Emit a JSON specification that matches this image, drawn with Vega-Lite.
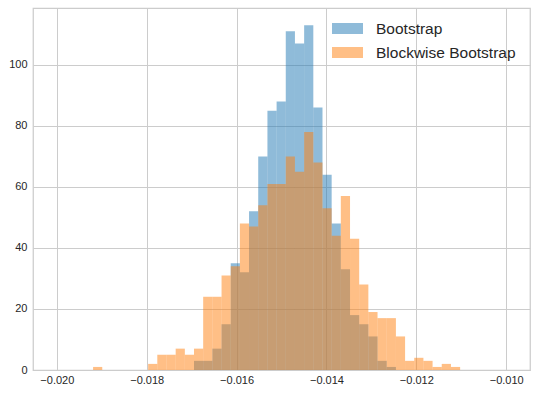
{
  "$schema": "https://vega.github.io/schema/vega-lite/v6.json",
  "width": 497,
  "height": 362,
  "autosize": {"type": "none"},
  "padding": {"left": 33, "top": 8, "right": 7, "bottom": 25},
  "background": "white",
  "config": {
    "view": {"stroke": "#cccccc", "strokeWidth": 1.25},
    "axis": {
      "domain": false,
      "ticks": false,
      "grid": true,
      "gridColor": "#cccccc",
      "gridWidth": 1,
      "gridOpacity": 1,
      "labelFont": "Liberation Sans",
      "labelFontSize": 11,
      "labelColor": "#262626",
      "labelPadding": 4,
      "title": null
    },
    "axisY": {"labelPadding": 6},
    "legend": {
      "labelFont": "Liberation Sans",
      "labelFontSize": 15.5,
      "labelColor": "#262626"
    }
  },
  "data": {
    "values": [
      {"series": "Bootstrap", "start": -0.016947, "end": -0.016743, "count": 3},
      {"series": "Bootstrap", "start": -0.016743, "end": -0.016538, "count": 3},
      {"series": "Bootstrap", "start": -0.016538, "end": -0.016334, "count": 7},
      {"series": "Bootstrap", "start": -0.016334, "end": -0.016130, "count": 15},
      {"series": "Bootstrap", "start": -0.016130, "end": -0.015926, "count": 35},
      {"series": "Bootstrap", "start": -0.015926, "end": -0.015722, "count": 32},
      {"series": "Bootstrap", "start": -0.015722, "end": -0.015518, "count": 52},
      {"series": "Bootstrap", "start": -0.015518, "end": -0.015313, "count": 70},
      {"series": "Bootstrap", "start": -0.015313, "end": -0.015109, "count": 85},
      {"series": "Bootstrap", "start": -0.015109, "end": -0.014905, "count": 88},
      {"series": "Bootstrap", "start": -0.014905, "end": -0.014701, "count": 111},
      {"series": "Bootstrap", "start": -0.014701, "end": -0.014496, "count": 107},
      {"series": "Bootstrap", "start": -0.014496, "end": -0.014292, "count": 113},
      {"series": "Bootstrap", "start": -0.014292, "end": -0.014088, "count": 86},
      {"series": "Bootstrap", "start": -0.014088, "end": -0.013884, "count": 64},
      {"series": "Bootstrap", "start": -0.013884, "end": -0.013680, "count": 48},
      {"series": "Bootstrap", "start": -0.013680, "end": -0.013475, "count": 33},
      {"series": "Bootstrap", "start": -0.013475, "end": -0.013271, "count": 18},
      {"series": "Bootstrap", "start": -0.013271, "end": -0.013067, "count": 15},
      {"series": "Bootstrap", "start": -0.013067, "end": -0.012863, "count": 11},
      {"series": "Bootstrap", "start": -0.012863, "end": -0.012659, "count": 3},
      {"series": "Bootstrap", "start": -0.012659, "end": -0.012454, "count": 1},
      {"series": "Blockwise Bootstrap", "start": -0.019193, "end": -0.018989, "count": 1},
      {"series": "Blockwise Bootstrap", "start": -0.017968, "end": -0.017764, "count": 2},
      {"series": "Blockwise Bootstrap", "start": -0.017764, "end": -0.017559, "count": 5},
      {"series": "Blockwise Bootstrap", "start": -0.017559, "end": -0.017355, "count": 5},
      {"series": "Blockwise Bootstrap", "start": -0.017355, "end": -0.017151, "count": 7},
      {"series": "Blockwise Bootstrap", "start": -0.017151, "end": -0.016947, "count": 5},
      {"series": "Blockwise Bootstrap", "start": -0.016947, "end": -0.016743, "count": 7},
      {"series": "Blockwise Bootstrap", "start": -0.016743, "end": -0.016538, "count": 24},
      {"series": "Blockwise Bootstrap", "start": -0.016538, "end": -0.016334, "count": 24},
      {"series": "Blockwise Bootstrap", "start": -0.016334, "end": -0.016130, "count": 31},
      {"series": "Blockwise Bootstrap", "start": -0.016130, "end": -0.015926, "count": 34},
      {"series": "Blockwise Bootstrap", "start": -0.015926, "end": -0.015722, "count": 48},
      {"series": "Blockwise Bootstrap", "start": -0.015722, "end": -0.015518, "count": 47},
      {"series": "Blockwise Bootstrap", "start": -0.015518, "end": -0.015313, "count": 54},
      {"series": "Blockwise Bootstrap", "start": -0.015313, "end": -0.015109, "count": 61},
      {"series": "Blockwise Bootstrap", "start": -0.015109, "end": -0.014905, "count": 61},
      {"series": "Blockwise Bootstrap", "start": -0.014905, "end": -0.014701, "count": 70},
      {"series": "Blockwise Bootstrap", "start": -0.014701, "end": -0.014496, "count": 65},
      {"series": "Blockwise Bootstrap", "start": -0.014496, "end": -0.014292, "count": 78},
      {"series": "Blockwise Bootstrap", "start": -0.014292, "end": -0.014088, "count": 68},
      {"series": "Blockwise Bootstrap", "start": -0.014088, "end": -0.013884, "count": 53},
      {"series": "Blockwise Bootstrap", "start": -0.013884, "end": -0.013680, "count": 44},
      {"series": "Blockwise Bootstrap", "start": -0.013680, "end": -0.013475, "count": 57},
      {"series": "Blockwise Bootstrap", "start": -0.013475, "end": -0.013271, "count": 43},
      {"series": "Blockwise Bootstrap", "start": -0.013271, "end": -0.013067, "count": 28},
      {"series": "Blockwise Bootstrap", "start": -0.013067, "end": -0.012863, "count": 19},
      {"series": "Blockwise Bootstrap", "start": -0.012863, "end": -0.012659, "count": 17},
      {"series": "Blockwise Bootstrap", "start": -0.012659, "end": -0.012454, "count": 17},
      {"series": "Blockwise Bootstrap", "start": -0.012454, "end": -0.012250, "count": 11},
      {"series": "Blockwise Bootstrap", "start": -0.012250, "end": -0.012046, "count": 3},
      {"series": "Blockwise Bootstrap", "start": -0.012046, "end": -0.011842, "count": 4},
      {"series": "Blockwise Bootstrap", "start": -0.011842, "end": -0.011638, "count": 3},
      {"series": "Blockwise Bootstrap", "start": -0.011638, "end": -0.011434, "count": 1},
      {"series": "Blockwise Bootstrap", "start": -0.011434, "end": -0.011229, "count": 2},
      {"series": "Blockwise Bootstrap", "start": -0.011229, "end": -0.011025, "count": 1}
    ]
  },
  "mark": {"type": "rect", "opacity": 0.5, "strokeWidth": 0},
  "encoding": {
    "x": {
      "field": "start",
      "type": "quantitative",
      "scale": {"domain": [-0.02053, -0.00947], "nice": false, "zero": false},
      "axis": {"values": [-0.020, -0.018, -0.016, -0.014, -0.012, -0.010], "format": ".3f"}
    },
    "x2": {"field": "end"},
    "y": {
      "field": "count",
      "type": "quantitative",
      "scale": {"domain": [0, 118.65], "nice": false},
      "axis": {"values": [0, 20, 40, 60, 80, 100]}
    },
    "y2": {"datum": 0},
    "color": {
      "field": "series",
      "type": "nominal",
      "scale": {"domain": ["Bootstrap", "Blockwise Bootstrap"], "range": ["#1f77b4", "#ff7f0e"]},
      "legend": {
        "title": null,
        "orient": "none",
        "legendX": 299,
        "legendY": 5,
        "padding": 0,
        "symbolType": "M-1,-0.355H1V0.355H-1Z",
        "symbolSize": 961,
        "symbolOpacity": 0.5,
        "symbolStrokeWidth": 0,
        "labelOffset": 13,
        "rowPadding": 0
      }
    }
  }
}
